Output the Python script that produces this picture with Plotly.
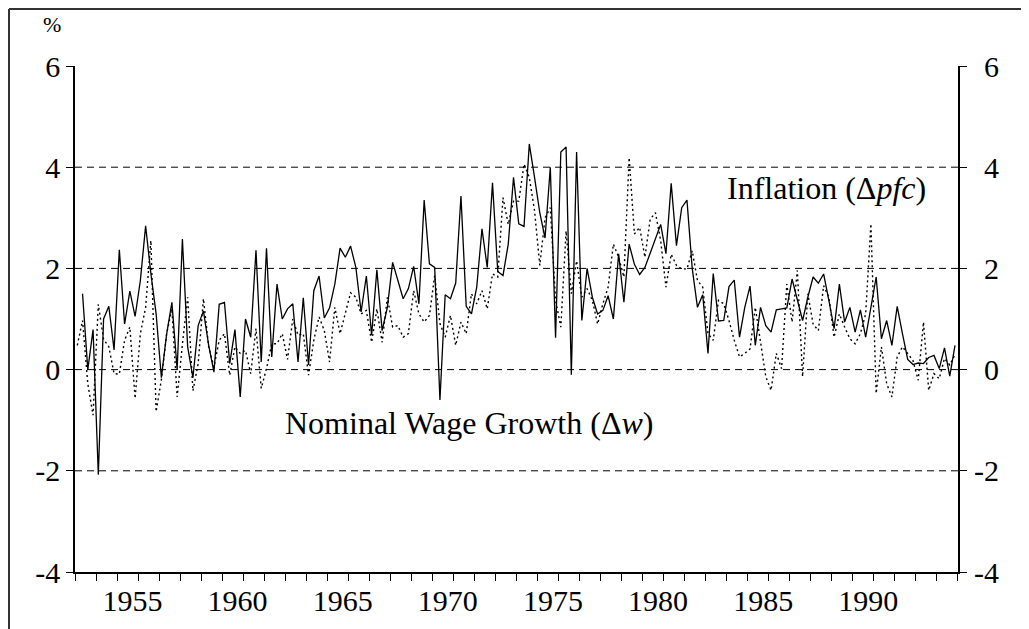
import plotly.graph_objects as go

# Quarterly observations, 1952Q2 .. 1994Q1
START_YEAR, START_Q, N_Q = 1952, 2, 168

# Nominal wage growth (solid), % per quarter (first quarter not available)
wage = [None,
    1.50, 0.00, 0.79, -2.08, 1.00, 1.25, 0.39, 2.37, 0.90, 1.55,
    1.05, 1.76, 2.84, 1.90, 1.10, -0.16, 0.70, 1.33, 0.00, 2.58,
    0.45, -0.16, 0.87, 1.16, 0.48, -0.05, 1.29, 1.33, 0.12, 0.79,
    -0.54, 1.00, 0.64, 2.36, 0.15, 2.40, 0.25, 1.69, 1.00, 1.20,
    1.30, 0.15, 1.42, 0.09, 1.56, 1.85, 1.02, 1.22, 1.69, 2.40,
    2.22, 2.44, 2.02, 1.14, 1.85, 0.68, 1.97, 0.77, 1.23, 2.12,
    1.76, 1.40, 1.60, 2.04, 1.30, 3.35, 2.09, 2.02, -0.60, 1.48,
    1.40, 1.71, 3.43, 1.25, 1.10, 1.63, 2.78, 2.02, 3.69, 1.94,
    1.86, 2.48, 3.80, 2.88, 2.83, 4.46, 3.80, 3.10, 2.60, 4.00,
    0.63, 4.30, 4.40, -0.10, 4.30, 0.97, 2.00, 1.43, 1.10, 1.17,
    1.46, 1.00, 2.29, 1.33, 2.48, 2.08, 1.88, 2.02, 2.30, 2.60,
    2.87, 2.29, 3.68, 2.45, 3.20, 3.35, 2.00, 1.23, 1.48, 0.32,
    1.90, 0.96, 0.97, 1.64, 1.77, 0.64, 1.23, 1.65, 0.48, 1.23,
    0.87, 0.74, 1.18, 1.20, 1.22, 1.79, 1.37, 0.97, 1.43, 1.83,
    1.71, 1.89, 1.37, 0.81, 1.69, 0.94, 1.23, 0.74, 1.18, 0.64,
    1.23, 1.83, 0.61, 0.97, 0.48, 1.25, 0.71, 0.20, 0.10, 0.13,
    0.12, 0.24, 0.28, 0.02, 0.43, -0.13, 0.48]

# Inflation (dotted), % per quarter
inflation = [
    0.48, 0.97, -0.28, -0.90, 1.29, 0.60, 0.45, -0.08, -0.09, 0.58,
    0.84, -0.57, 0.71, 1.23, 2.55, -0.83, -0.20, 0.71, 1.20, -0.54,
    0.50, 1.43, -0.42, 0.12, 1.40, 0.45, 0.05, 0.58, 0.71, -0.11,
    0.45, 0.32, 0.38, -0.08, 0.81, -0.37, 0.02, 0.51, 0.51, 0.71,
    0.20, 1.00, 0.68, 0.71, -0.11, 0.58, 1.04, 0.77, 0.15, 1.23,
    0.71, 1.10, 1.52, 1.43, 1.10, 1.17, 0.54, 1.20, 0.54, 1.43,
    0.84, 0.87, 0.64, 0.71, 1.56, 1.10, 0.94, 1.07, 1.86, 0.91,
    0.64, 1.07, 0.48, 0.94, 0.71, 1.50, 1.30, 1.56, 1.20, 1.89,
    1.83, 3.40, 2.87, 3.33, 3.33, 4.06, 3.80, 3.14, 2.06, 3.00,
    3.20, 1.37, 0.84, 2.74, 1.50, 2.15, 1.43, 1.60, 1.37, 0.90,
    1.30, 1.63, 2.48, 2.22, 1.83, 4.19, 2.68, 2.81, 2.22, 2.97,
    3.10, 2.55, 1.63, 2.28, 2.06, 1.99, 1.99, 2.35, 1.76, 1.63,
    0.71, 0.58, 1.37, 1.30, 0.97, 0.58, 0.25, 0.32, 0.41, 1.23,
    0.51, -0.14, -0.41, 0.32, 0.02, 1.69, 0.94, 1.96, -0.14, 1.50,
    0.90, 0.77, 1.66, 1.43, 0.64, 1.10, 0.84, 0.61, 0.51, 0.71,
    1.10, 2.88, -0.47, 0.45, -0.28, -0.54, 0.25, 0.45, 0.32, 0.18,
    -0.21, 0.94, -0.41, -0.08, -0.18, 0.22, 0.09, 0.30]

# mid-quarter time positions
quarters = []
for i in range(N_Q):
    q0 = START_Q - 1 + i
    quarters.append(START_YEAR + q0 // 4 + (q0 % 4) / 4 + 0.125)

year_ticks = [1955, 1960, 1965, 1970, 1975, 1980, 1985, 1990]
y_ticks = [-4, -2, 0, 2, 4, 6]
grid_levels = [-2, 0, 2, 4]

FONT = "Liberation Serif"
X_DOMAIN_END = 0.9525

fig = go.Figure()
fig.add_trace(go.Scatter(x=quarters, y=wage, mode="lines", name="Nominal Wage Growth",
                         line=dict(color="black", width=1.3), connectgaps=False))
fig.add_trace(go.Scatter(x=quarters, y=inflation, mode="lines", name="Inflation",
                         line=dict(color="black", width=1.4, dash="2px,3px"), yaxis="y2"))

for lv in grid_levels:
    fig.add_shape(type="line", xref="x domain", x0=0, x1=1, yref="y", y0=lv, y1=lv,
                  line=dict(color="black", width=1, dash="7px,5px"), layer="below")

# outer frame (top and left rules)
fig.add_shape(type="line", xref="paper", yref="paper", x0=-0.0712, x1=-0.0712, y0=-0.2, y1=1.1126,
              line=dict(color="#333", width=2))
fig.add_shape(type="line", xref="paper", yref="paper", x0=-0.0712, x1=1.2, y0=1.1126, y1=1.1126,
              line=dict(color="#333", width=2))

fig.add_annotation(text="Inflation (Δ<i>pfc</i>)", xref="x", yref="y", x=1988.0, y=3.58,
                   showarrow=False, font=dict(family=FONT, size=32, color="black"))
fig.add_annotation(text="Nominal Wage Growth (Δ<i>w</i>)", xref="x", yref="y", x=1971.0, y=-1.06,
                   showarrow=False, font=dict(family=FONT, size=32, color="black"))
fig.add_annotation(text="%", xref="paper", yref="paper", x=-0.0248, y=1.082,
                   xanchor="center", yanchor="middle",
                   showarrow=False, font=dict(family=FONT, size=22, color="black"))

axis_font = dict(family=FONT, size=30, color="black")
fig.update_layout(
    width=1029, height=629,
    margin=dict(l=67, r=35, t=58, b=65),
    paper_bgcolor="white", plot_bgcolor="white",
    showlegend=False,
    font=dict(family=FONT, size=30, color="black"),
    xaxis=dict(domain=[0, X_DOMAIN_END], range=[1952.266, 1994.266], tickvals=year_ticks,
               ticktext=[str(y) for y in year_ticks], ticks="", showgrid=False, zeroline=False,
               showline=True, linecolor="black", linewidth=1.5,
               minor=dict(tick0=1952.266, dtick=1, ticks="outside", ticklen=7, tickcolor="black",
                          tickwidth=1, showgrid=False),
               tickfont=axis_font, ticklabelstandoff=1),
    yaxis=dict(range=[-4, 6], tickvals=y_ticks, ticktext=[str(v) for v in y_ticks],
               ticks="outside", ticklen=7, tickcolor="black", showgrid=False, zeroline=False,
               showline=True, mirror="ticks", linecolor="black", linewidth=1.5, tickfont=axis_font),
    yaxis2=dict(range=[-4, 6], overlaying="y", side="right", anchor="free", position=1.0,
                tickvals=y_ticks, ticktext=[str(v) for v in y_ticks], ticks="",
                ticklabelposition="inside", ticklabeloverflow="allow",
                showgrid=False, zeroline=False, showline=False, tickfont=axis_font),
)

fig.write_html("out.html")
